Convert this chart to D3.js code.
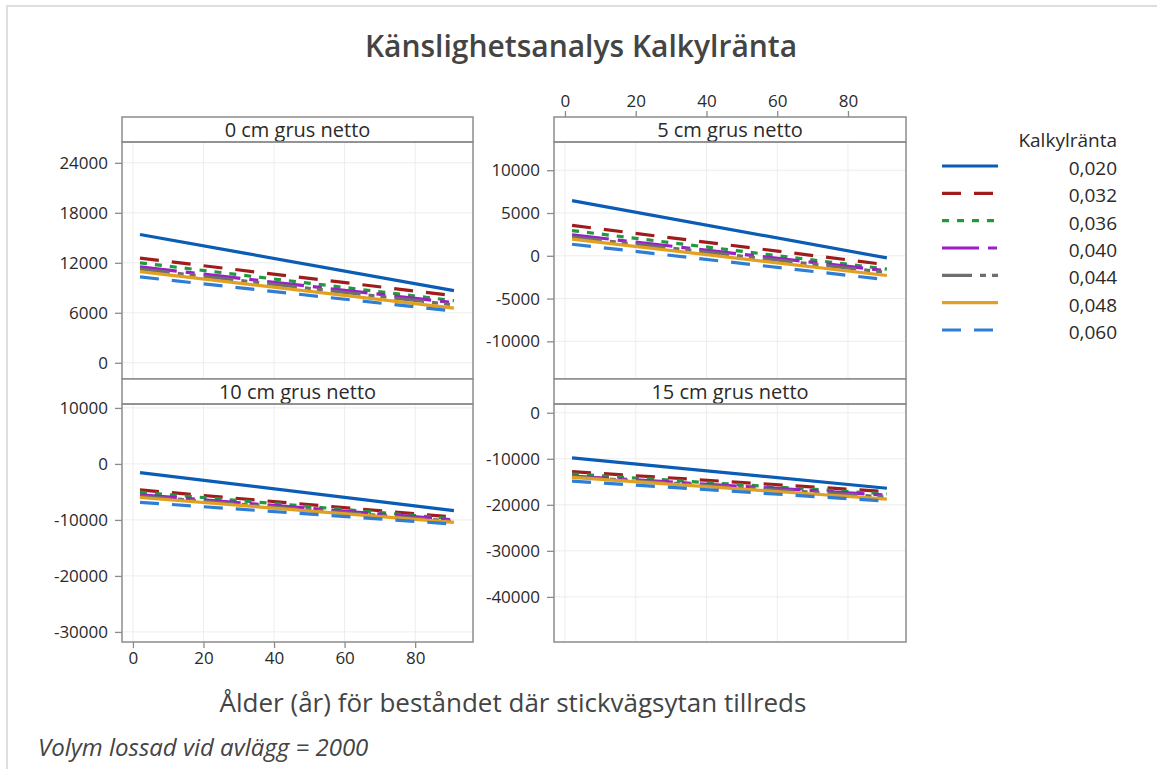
<!DOCTYPE html>
<html>
<head>
<meta charset="utf-8">
<script src="https://cdn.jsdelivr.net/npm/d3@7"></script>
<style>
  html, body { margin: 0; padding: 0; background: #fff; }
  svg { display: block; font-family: "Open Sans", "Noto Sans", sans-serif; }
</style>
</head>
<body>
<svg id="chart" width="1157" height="769"></svg>
<script>
// Panel titles (gravel thickness) and discount rates
const panelTitles = ["0 cm grus netto", "5 cm grus netto", "10 cm grus netto", "15 cm grus netto"];
const rates = ["0,020", "0,032", "0,036", "0,040", "0,044", "0,048", "0,060"];
const rateColors = ["#0b5cb5", "#a01c1c", "#1f9a3c", "#9a1fc8", "#6e6e6e", "#e2a021", "#2f7ed6"];
const rateDashes = [null, "19,13", "7,8", "37,9,9,9", "30,8,6,6,6,8", null, "19,13"];

// Stand age (years) at which each line is evaluated
const ages = [2, 91];

// Net value per panel, one [start, end] pair per rate
const values0cm  = [[15400, 8650], [12560, 8050], [12000, 7450], [11500, 7200], [11250, 6950], [10950, 6550], [10300, 6200]];
const values5cm  = [[6450, -250], [3550, -1050], [2950, -1550], [2450, -1750], [2200, -1950], [1950, -2300], [1350, -2800]];
const values10cm = [[-1550, -8350], [-4650, -9500], [-5050, -9800], [-5500, -10000], [-5750, -10250], [-6000, -10450], [-6850, -10750]];
const values15cm = [[-9800, -16400], [-12800, -17150], [-13300, -17650], [-13750, -17900], [-13900, -18300], [-14050, -18750], [-14850, -19200]];
const panelValues = [values0cm, values5cm, values10cm, values15cm];

// Axis ranges and ticks
const xDomain = [-3.1, 96.4];
const xTicks = [0, 20, 40, 60, 80];
const yDomains = [[-1950, 26500], [-14400, 13300], [-31800, 10700], [-49800, 1900]];
const yTicks = [
  [0, 6000, 12000, 18000, 24000],
  [-10000, -5000, 0, 5000, 10000],
  [-30000, -20000, -10000, 0, 10000],
  [-40000, -30000, -20000, -10000, 0]
];

const svg = d3.select("#chart");
const textColor = "#2a2a2a";
const frameColor = "#8c8c8c";
const tickFont = 17;
const plain = d => String(d);   // keeps the ASCII hyphen for negatives

// Faint outer border (left and top)
svg.append("line").attr("x1", 7).attr("x2", 7).attr("y1", 6).attr("y2", 769)
  .attr("stroke", "#dedede").attr("stroke-width", 2);
svg.append("line").attr("x1", 6).attr("x2", 1157).attr("y1", 6).attr("y2", 6)
  .attr("stroke", "#dedede").attr("stroke-width", 2);

// Title
svg.append("text").attr("x", 581).attr("y", 57).attr("text-anchor", "middle")
  .attr("font-size", 30).attr("font-weight", 600).attr("fill", "#444")
  .text("Känslighetsanalys Kalkylränta");

// Panel geometry
const cols = [[122, 473], [554, 906]];
const rows = [{ strip: 117, top: 142, bottom: 379 }, { strip: 379, top: 404, bottom: 642 }];

function styleAxis(sel) {
  sel.select(".domain").remove();
  sel.selectAll("line").attr("stroke", frameColor).attr("stroke-width", 1.3);
  sel.selectAll("text").attr("font-size", tickFont).attr("fill", textColor)
    .attr("font-family", "Open Sans, Noto Sans, sans-serif");
}

panelTitles.forEach((title, i) => {
  const col = cols[i % 2], row = rows[Math.floor(i / 2)];
  const x = d3.scaleLinear().domain(xDomain).range(col);
  const y = d3.scaleLinear().domain(yDomains[i]).range([row.bottom, row.top]);
  const g = svg.append("g");

  // Grid
  g.append("g").selectAll("line").data(xTicks).join("line")
    .attr("x1", d => x(d)).attr("x2", d => x(d))
    .attr("y1", row.top).attr("y2", row.bottom)
    .attr("stroke", "#ededed").attr("stroke-width", 1);
  g.append("g").selectAll("line").data(yTicks[i]).join("line")
    .attr("x1", col[0]).attr("x2", col[1])
    .attr("y1", d => y(d)).attr("y2", d => y(d))
    .attr("stroke", "#ededed").attr("stroke-width", 1);

  // Series lines
  const line = d3.line().x(d => x(d[0])).y(d => y(d[1]));
  panelValues[i].forEach((vals, s) => {
    const pts = ages.map((a, k) => [a, vals[k]]);
    g.append("path").datum(pts).attr("d", line)
      .attr("fill", "none").attr("stroke", rateColors[s]).attr("stroke-width", 3.2)
      .attr("stroke-dasharray", rateDashes[s]);
  });

  // Y axis on the left of every panel
  g.append("g").attr("transform", `translate(${col[0]},0)`)
    .call(d3.axisLeft(y).tickValues(yTicks[i]).tickFormat(plain).tickSizeOuter(0).tickSize(7).tickPadding(7))
    .call(styleAxis);

  // X axes alternate: bottom-left panel below, top-right panel above
  if (i === 2) {
    g.append("g").attr("transform", `translate(0,${row.bottom})`)
      .call(d3.axisBottom(x).tickValues(xTicks).tickFormat(plain).tickSizeOuter(0).tickSize(6).tickPadding(4))
      .call(styleAxis);
  }
  if (i === 1) {
    g.append("g").attr("transform", `translate(0,${row.strip})`)
      .call(d3.axisTop(x).tickValues(xTicks).tickFormat(plain).tickSizeOuter(0).tickSize(6).tickPadding(4))
      .call(styleAxis);
  }

  // Strip with panel title
  g.append("rect").attr("x", col[0]).attr("y", row.strip).attr("width", col[1] - col[0])
    .attr("height", row.top - row.strip).attr("fill", "#fff")
    .attr("stroke", frameColor).attr("stroke-width", 1.5);
  g.append("text").attr("x", (col[0] + col[1]) / 2).attr("y", (row.strip + row.top) / 2 + 7)
    .attr("text-anchor", "middle").attr("font-size", 20).attr("fill", textColor).text(title);

  // Plot frame
  g.append("rect").attr("x", col[0]).attr("y", row.top).attr("width", col[1] - col[0])
    .attr("height", row.bottom - row.top).attr("fill", "none")
    .attr("stroke", frameColor).attr("stroke-width", 1.5);
});

// X axis title
svg.append("text").attr("x", 513).attr("y", 712).attr("text-anchor", "middle")
  .attr("font-size", 26).attr("font-weight", 500).attr("fill", "#444")
  .text("Ålder (år) för beståndet där stickvägsytan tillreds");

// Footnote
svg.append("text").attr("x", 38).attr("y", 756).attr("font-size", 24).attr("font-style", "italic")
  .attr("fill", "#444").text("Volym lossad vid avlägg = 2000");

// Legend
const legend = svg.append("g");
legend.append("text").attr("x", 1117).attr("y", 147).attr("text-anchor", "end")
  .attr("font-size", 19).attr("fill", textColor).text("Kalkylränta");
const legendY = d3.scalePoint().domain(rates).range([166, 330]);
rates.forEach((r, s) => {
  const yy = legendY(r);
  legend.append("line").attr("x1", 942).attr("x2", 998).attr("y1", yy).attr("y2", yy)
    .attr("stroke", rateColors[s]).attr("stroke-width", 3.2).attr("stroke-dasharray", rateDashes[s]);
  legend.append("text").attr("x", 1117).attr("y", yy + 9).attr("text-anchor", "end")
    .attr("font-size", 19).attr("fill", textColor).text(r);
});
</script>
</body>
</html>
